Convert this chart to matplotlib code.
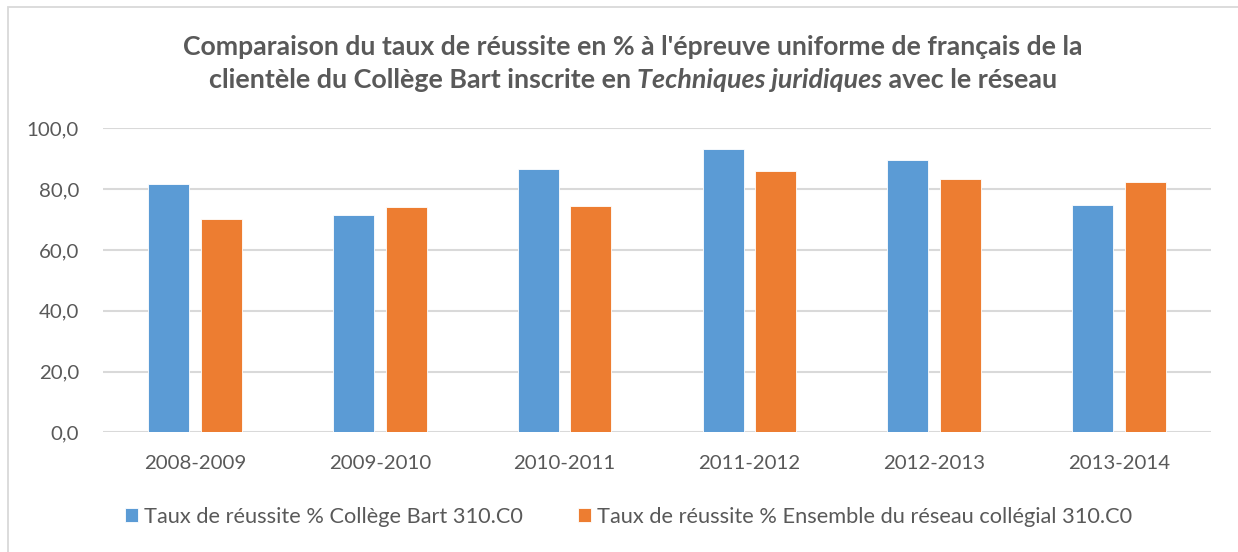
import numpy as np
import matplotlib.pyplot as plt
from matplotlib.patches import Rectangle
from matplotlib.ticker import FuncFormatter

# Données : taux de réussite (%) par année scolaire
annees = ['2008-2009', '2009-2010', '2010-2011', '2011-2012', '2012-2013', '2013-2014']
college_bart = [81.8, 71.4, 86.7, 93.3, 89.5, 74.9]
reseau = [70.2, 74.0, 74.6, 86.1, 83.2, 82.5]
serie_noms = ['Taux de réussite % Collège Bart 310.C0',
              'Taux de réussite % Ensemble du réseau collégial 310.C0']

BLEU = '#5B9BD5'
ORANGE = '#ED7D31'
GRIS_TEXTE = '#595959'
GRIS_GRILLE = '#D9D9D9'

plt.rcParams['font.family'] = ['Lato', 'DejaVu Sans']

W, H = 1238, 552
fig = plt.figure(figsize=(W / 100, H / 100), dpi=100)

# cadre du graphique (déborde à droite et en bas)
fig.patches.append(Rectangle((8 / W, -0.1), 1.2, (H - 7) / H + 0.1, transform=fig.transFigure,
                             fill=False, edgecolor=GRIS_GRILLE, linewidth=1.3))

ax = fig.add_axes([102.6 / W, (H - 432.3) / H, (1211.4 - 102.6) / W, (432.3 - 128.3) / H])

x = np.arange(len(annees))
largeur = 0.222
decalage = 0.142
ax.bar(x - decalage, college_bart, largeur, color=BLEU, edgecolor='white', linewidth=0.6,
       label=serie_noms[0], zorder=3)
ax.bar(x + decalage, reseau, largeur, color=ORANGE, edgecolor='white', linewidth=0.6,
       label=serie_noms[1], zorder=3)

ax.set_xlim(-0.5, len(annees) - 0.5)
ax.set_ylim(0, 100)
ax.set_yticks(np.arange(0, 101, 20))
ax.yaxis.set_major_formatter(FuncFormatter(lambda v, p: f'{v:.1f}'.replace('.', ',')))
ax.set_xticks(x)
ax.set_xticklabels(annees)

ax.grid(axis='y', color=GRIS_GRILLE, linewidth=1.5, zorder=0)
for s in ax.spines.values():
    s.set_visible(False)
ax.tick_params(axis='both', length=0, labelsize=14.7, labelcolor=GRIS_TEXTE)
ax.tick_params(axis='y', pad=17)
ax.tick_params(axis='x', pad=16)

# Titre sur deux lignes, avec une partie en italique
cx = 633 / W
fig.text(cx, 1 - 47 / H, "Comparaison du taux de réussite en % à l'épreuve uniforme de français de la",
         ha='center', va='center', fontsize=19.2, fontweight='bold', color=GRIS_TEXTE)

morceaux = [('clientèle du Collège Bart inscrite en ', 'normal'),
            ('Techniques juridiques', 'italic'),
            (' avec le réseau', 'normal')]
fig.canvas.draw()
rend = fig.canvas.get_renderer()
textes = []
for txt, style in morceaux:
    t = fig.text(0, 1 - 80 / H, txt, ha='left', va='center', fontsize=19.4, fontweight='bold',
                 style=style, color=GRIS_TEXTE)
    textes.append(t)
largeurs = [t.get_window_extent(rend).width for t in textes]
x0 = cx * W - sum(largeurs) / 2
for t, w in zip(textes, largeurs):
    t.set_x(x0 / W)
    x0 += w

leg = fig.legend(loc='center', bbox_to_anchor=(628.5 / W, 1 - 517 / H), ncol=2, frameon=False,
                 fontsize=15.7, handlelength=0.6, handleheight=0.6, handletextpad=0.3,
                 columnspacing=2.5, labelcolor=GRIS_TEXTE)

fig.savefig('out.png', dpi=100)
